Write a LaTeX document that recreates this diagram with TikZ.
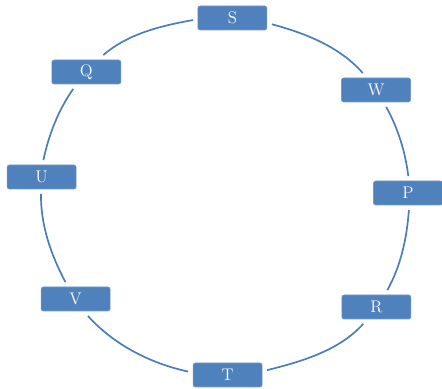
\documentclass[tikz,border=0pt]{standalone}
\definecolor{cycleblue}{HTML}{4F81BD}
\definecolor{arcblue}{HTML}{4A7EBB}
\begin{document}
\begin{tikzpicture}[
    stage/.style={rectangle, fill=cycleblue, draw=cycleblue!80!white, line width=0.4pt,
        rounded corners=1.5pt, minimum width=1.725cm, minimum height=0.6cm,
        text=white, font=\fontsize{12}{13}\selectfont, inner sep=0pt, outer sep=3.5pt},
    link/.style={draw=arcblue, line width=1.2pt, looseness=0.86}
]
    % Frame
    \useasboundingbox (0,0) rectangle (11.05,9.725);

    % Stages
    \node[stage] (S) at (5.81,9.275) {S};
    \node[stage] (W) at (9.4,7.475) {W};
    \node[stage] (P) at (10.2,4.9) {P};
    \node[stage] (R) at (9.41,2.05) {R};
    \node[stage] (T) at (5.69,0.35) {T};
    \node[stage] (V) at (1.89,2.25) {V};
    \node[stage] (U) at (1.04,5.3) {U};
    \node[stage] (Q) at (2.16,7.925) {Q};

    % Cycle
    \draw[link] (S.-9) to[out=-15, in=131] (W.128);
    \draw[link] (W.-59) to[out=-61, in=97] (P.89);
    \draw[link] (P.-87) to[out=-94, in=61] (R.57);
    \draw[link] (R.-128) to[out=-132, in=14] (T.7);
    \draw[link] (T.175) to[out=168, in=-48] (V.-54);
    \draw[link] (V.121) to[out=118, in=-91] (U.-92);
    \draw[link] (U.84) to[out=78, in=-125] (Q.-128);
    \draw[link] (Q.45) to[out=41, in=-170] (S.-177);
\end{tikzpicture}
\end{document}
